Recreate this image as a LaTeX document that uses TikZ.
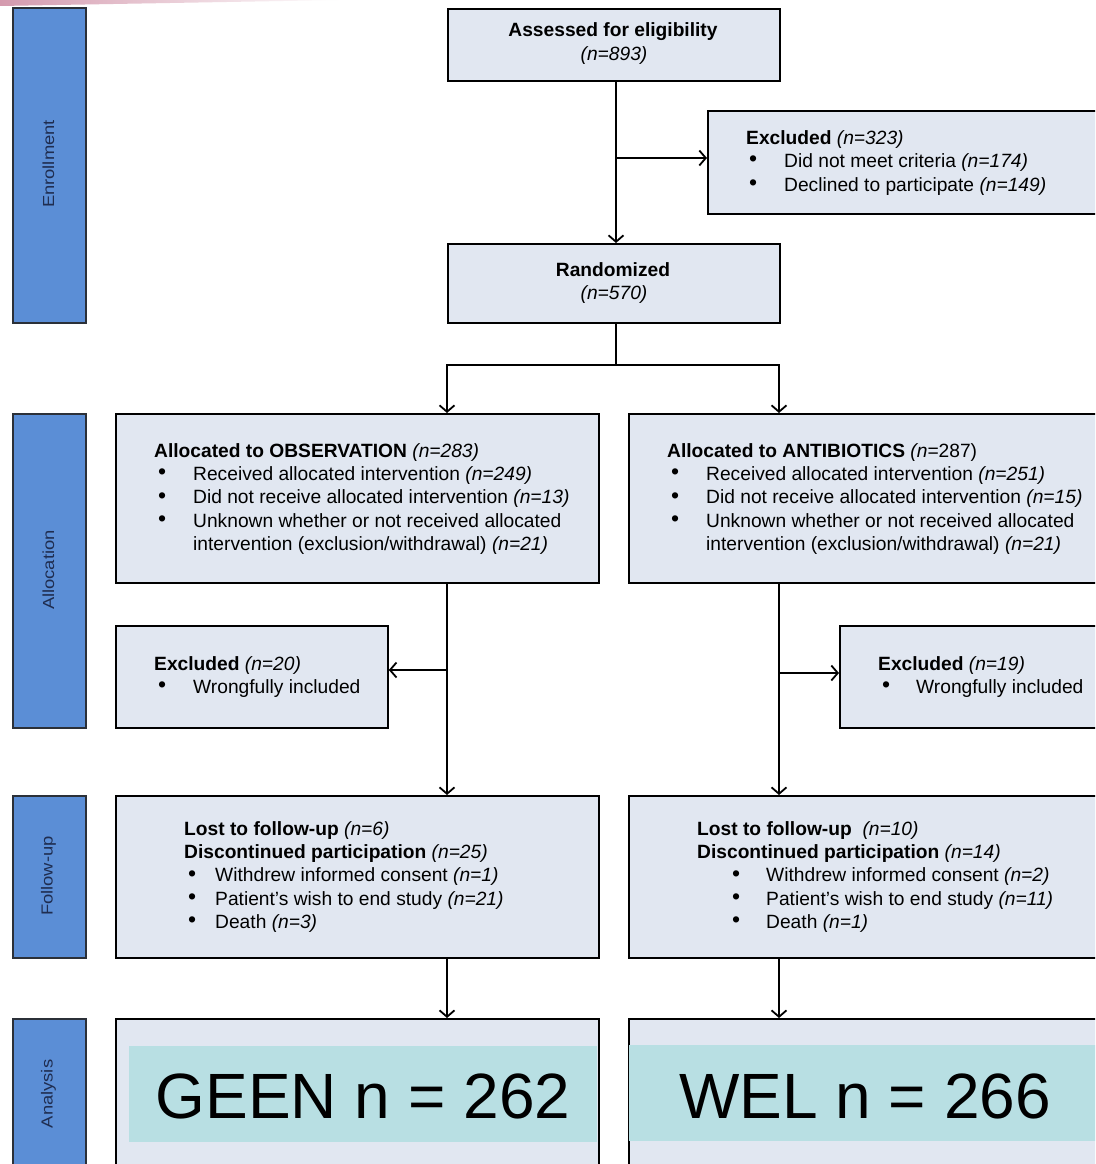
\documentclass[tikz,border=0pt]{standalone}
\usepackage{fontspec}
\setmainfont{Liberation Sans}
\usetikzlibrary{arrows.meta}
\definecolor{boxfill}{HTML}{E1E7F1}
\definecolor{sidefill}{HTML}{5B8ED6}
\definecolor{sidetext}{HTML}{1F2D50}
\definecolor{sidedraw}{HTML}{2B3038}
\definecolor{tealfill}{HTML}{B8DFE3}
\definecolor{streak}{HTML}{D49AAE}
\newcommand{\fsn}{\fontsize{19.2}{23.3}\selectfont}
\newcommand{\bigbul}{\raisebox{0.6pt}{\fontsize{23}{23}\selectfont\textbullet}}
\newcommand{\bitem}[5]{%
  \node[txt] (#1b) at (#2-1,#4) {\bigbul};
  \node[txt] (#1) at (#3,#4) {#5};}
\begin{document}
\begin{tikzpicture}[x=1pt,y=-1pt,
  box/.style={draw=black, line width=1.8pt, fill=boxfill, inner sep=0pt, anchor=north west},
  side/.style={draw=sidedraw, line width=1.8pt, fill=sidefill, inner sep=0pt, anchor=north west, minimum width=73pt},
  sidelabel/.style={font=\fontsize{16}{19}\selectfont, text=sidetext, rotate=90, inner sep=0pt},
  teal/.style={fill=tealfill, inner sep=0pt, anchor=north west},
  txt/.style={font=\fsn, inner sep=0pt, anchor=base west},
  ctxt/.style={font=\fsn, inner sep=0pt, anchor=base},
  big/.style={font=\fontsize{64}{70}\selectfont, inner sep=0pt, anchor=base},
  conn/.style={line width=1.8pt, draw=black},
  arr/.style={conn, -{Straight Barb[length=6.5pt,width=15pt]}},
]
\useasboundingbox (0,0) rectangle (1095,1164);
\clip (0,0) rectangle (1095,1164);
\fill[white] (0,0) rectangle (1095,1164);
\shade[left color=streak, right color=white] (0,0) -- (340,0) -- (0,6) -- cycle;

% side bars
\node[side, minimum height=315pt] (s1) at (12,7) {};
\node[side, minimum height=314pt] (s2) at (12,413) {};
\node[side, minimum height=162pt] (s3) at (12,795) {};
\node[side, minimum height=160pt] (s4) at (12,1018) {};
\node[sidelabel] (l1) at (48.5,164) {\scalebox{1.15}[1]{Enrollment}};
\node[sidelabel] (l2) at (48.5,570) {\scalebox{1.15}[1]{Allocation}};
\node[sidelabel] (l3) at (48.5,876) {\scalebox{1.15}[1]{Follow-up}};
\node[sidelabel] (l4) at (48.5,1094) {\scalebox{1.15}[1]{Analysis}};

% boxes
\node[box, minimum width=332pt, minimum height=72pt] (assessed) at (447,8) {};
\node[box, minimum width=400pt, minimum height=103pt] (excl1) at (707,110) {};
\node[box, minimum width=332pt, minimum height=79pt] (rand) at (447,243) {};
\node[box, minimum width=483pt, minimum height=169pt] (allocO) at (115,413) {};
\node[box, minimum width=480pt, minimum height=169pt] (allocA) at (628,413) {};
\node[box, minimum width=272pt, minimum height=102pt] (exO) at (115,625) {};
\node[box, minimum width=270pt, minimum height=102pt] (exA) at (839,625) {};
\node[box, minimum width=483pt, minimum height=162pt] (fuO) at (115,795) {};
\node[box, minimum width=480pt, minimum height=162pt] (fuA) at (628,795) {};
\node[box, minimum width=483pt, minimum height=160pt] (anO) at (115,1018) {};
\node[box, minimum width=480pt, minimum height=160pt] (anA) at (628,1018) {};
\node[teal, minimum width=468pt, minimum height=96pt] (tealO) at (129,1046) {};
\node[teal, minimum width=480pt, minimum height=96pt] (tealA) at (629,1045) {};

% connectors
\coordinate (b1) at (616,158);
\coordinate (r1) at (616,365);
\coordinate (sL) at (447,365);
\coordinate (sR) at (779,365);
\draw[arr] (r1 |- assessed.south) -- (r1 |- rand.north);
\draw[arr] (b1) -- (excl1.west |- b1);
\draw[conn] (r1 |- rand.south) -- (r1);
\draw[arr] (r1) -- (sL) -- (sL |- allocO.north);
\draw[arr] (r1) -- (sR) -- (sR |- allocA.north);
\draw[arr] (sL |- allocO.south) -- (sL |- fuO.north);
\draw[arr] (sR |- allocA.south) -- (sR |- fuA.north);
\coordinate (bL) at (447,670);
\coordinate (bR) at (779,673);
\draw[arr] (bL) -- (exO.east |- bL);
\draw[arr] (bR) -- (exA.west |- bR);
\draw[arr] (sL |- fuO.south) -- (sL |- anO.north);
\draw[arr] (sR |- fuA.south) -- (sR |- anA.north);

% texts
\node[ctxt] (tas1) at (613,37) {\textbf{Assessed for eligibility}};
\node[ctxt] (tas2) at (614,60) {\textit{(n=893)}};
\node[ctxt] (tra1) at (613,276) {\textbf{Randomized}};
\node[ctxt] (tra2) at (614,299) {\textit{(n=570)}};

\node[txt] (tex1) at (746,144) {\textbf{Excluded} \textit{(n=323)}};
\bitem{tex2}{750}{784}{167.5}{Did not meet criteria \textit{(n=174)}}
\bitem{tex3}{750}{784}{191}{Declined to participate \textit{(n=149)}}

\node[txt] (tao1) at (154,457) {\textbf{Allocated to OBSERVATION} \textit{(n=283)}};
\bitem{tao2}{159}{193}{480.3}{Received allocated intervention \textit{(n=249)}}
\bitem{tao3}{159}{193}{503.6}{Did not receive allocated intervention \textit{(n=13)}}
\bitem{tao4}{159}{193}{527}{Unknown whether or not received allocated}
\node[txt] (tao5) at (193,550.3) {intervention (exclusion/withdrawal) \textit{(n=21)}};

\node[txt] (taa1) at (667,457) {\textbf{Allocated to ANTIBIOTICS} \textit{(n=}287)};
\bitem{taa2}{672}{706}{480.3}{Received allocated intervention \textit{(n=251)}}
\bitem{taa3}{672}{706}{503.6}{Did not receive allocated intervention \textit{(n=15)}}
\bitem{taa4}{672}{706}{527}{Unknown whether or not received allocated}
\node[txt] (taa5) at (706,550.3) {intervention (exclusion/withdrawal) \textit{(n=21)}};

\node[txt] (teo1) at (154,670) {\textbf{Excluded} \textit{(n=20)}};
\bitem{teo2}{159}{193}{693.5}{Wrongfully included}
\node[txt] (tea1) at (878,670) {\textbf{Excluded} \textit{(n=19)}};
\bitem{tea2}{883}{916}{693.5}{Wrongfully included}

\node[txt] (tfo1) at (184,835) {\textbf{Lost to follow-up} \textit{(n=6)}};
\node[txt] (tfo2) at (184,858.3) {\textbf{Discontinued participation} \textit{(n=25)}};
\bitem{tfo3}{189}{215}{881.6}{Withdrew informed consent \textit{(n=1)}}
\bitem{tfo4}{189}{215}{905}{Patient’s wish to end study \textit{(n=21)}}
\bitem{tfo5}{189}{215}{928.3}{Death \textit{(n=3)}}

\node[txt] (tfa1) at (697,835) {\textbf{Lost to follow-up}\ \ \textit{(n=10)}};
\node[txt] (tfa2) at (697,858.3) {\textbf{Discontinued participation} \textit{(n=14)}};
\bitem{tfa3}{733}{766}{881.6}{Withdrew informed consent \textit{(n=2)}}
\bitem{tfa4}{733}{766}{905}{Patient’s wish to end study \textit{(n=11)}}
\bitem{tfa5}{733}{766}{928.3}{Death \textit{(n=1)}}

\node[big] (geen) at (363,1118) {GEEN n = 262};
\node[big] (wel) at (865,1118) {WEL n = 266};
\end{tikzpicture}
\end{document}
